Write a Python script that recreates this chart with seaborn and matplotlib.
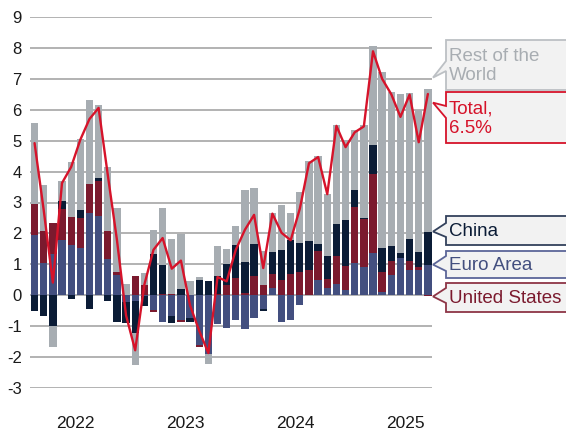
import matplotlib

matplotlib.use("Agg")
import matplotlib.pyplot as plt
import numpy as np
import pandas as pd
import seaborn as sns
from matplotlib.patches import Polygon

# --- data (monthly contributions, pp) ---
MONTHS = pd.date_range("2022-02-01", "2025-09-01", freq="MS")

EURO_AREA = [1.96, 1.04, 1.34, 1.78, 1.61, 1.53, 2.66, 2.55, 1.17, 0.66, -0.22,
             -0.20, -0.04, -0.47, -0.85, -0.68, -0.81, -0.74, -1.60, -1.89, -0.92, -1.06, -0.79,
             -1.10, -0.74, -0.45, 0.25, -0.85, -0.79, -0.33, 0.00, 0.50, 0.25, 0.37, 0.18,
             1.04, 0.90, 1.36, 0.12, 0.67, 1.19, 0.83, 0.83, 0.99]
UNITED_STATES = [1.00, 1.03, 1.00, 1.01, 0.91, 0.97, 0.94, 1.15, 0.90, 0.08, 0.00,
                 0.61, 0.33, -0.07, 0.05, 0.03, -0.04, 0.00, -0.08, 0.00, 0.05, 0.34, 0.55,
                 0.07, 0.61, 0.32, 0.45, 0.50, 0.70, 0.74, 0.82, 0.93, 0.28, 0.89, 0.75,
                 1.83, 1.58, 2.57, 0.63, 0.45, 0.00, 0.27, 0.08, -0.04]
CHINA = [-0.52, -0.68, -1.00, 0.27, -0.12, 0.27, -0.44, 0.09, -0.17, -0.85, -0.68,
         -1.02, -0.31, 1.34, 0.92, -0.22, 0.20, -0.13, 0.50, 0.47, 0.56, 0.66, 1.08,
         1.00, 1.06, -0.07, 0.71, 0.95, 1.08, 0.95, 0.95, 0.22, 0.75, 1.05, 1.49,
         0.54, 0.02, 0.94, 0.77, 0.46, 0.17, 0.73, 0.49, 1.07]
REST_OF_WORLD = [2.61, 1.51, -0.66, 0.62, 1.78, 2.30, 2.71, 2.35, 2.07, 2.08, 0.36,
                 -1.03, 0.39, 0.78, 1.84, 1.79, 1.79, 0.47, 0.09, -0.33, 0.97, 0.49, 0.60,
                 2.32, 1.79, 1.12, 1.25, 1.47, 0.88, 1.64, 2.56, 2.84, 1.99, 3.21, 2.61,
                 1.95, 3.02, 3.20, 5.70, 4.99, 5.15, 4.71, 4.60, 4.61]
TOTAL = [4.92, 2.75, 0.41, 3.63, 4.15, 5.03, 5.70, 6.06, 3.90, 1.80, -0.65,
         -1.78, 0.34, 1.47, 1.85, 0.86, 1.12, -0.33, -1.15, -1.87, 0.59, 0.45, 1.47,
         2.12, 2.60, 0.88, 2.64, 2.02, 1.78, 2.80, 4.27, 4.47, 3.27, 5.48, 4.79,
         5.27, 5.46, 7.89, 7.00, 6.50, 5.77, 6.49, 4.95, 6.51]
YEARS = ["2022", "2023", "2024", "2025"]
Y_TICKS = list(range(-3, 10))

# --- styling ---
C_EURO = "#434f7f"
C_US = "#7b1a2e"
C_CHINA = "#0b1c36"
C_ROW = "#a7adb2"
C_TOTAL = "#d6132a"
C_GRID = "#a6a6a6"
W, H = 566, 430


def px_to_fig(x, y):
    """Top-left pixel coords -> figure fraction."""
    return x / W, 1 - y / H


def callout(fig, text, color, edge, tip_y, box, base, lw=1.3):
    """Speech-bubble label on the right of the plot area."""
    top, bottom = box
    b_top, b_bot = base
    left, right, tip_x = 446, 590, 433
    pts = [(left, top), (right, top), (right, bottom), (left, bottom),
           (left, b_bot), (tip_x, tip_y), (left, b_top)]
    poly = Polygon([px_to_fig(*p) for p in pts], closed=True, transform=fig.transFigure,
                   facecolor="#f2f2f2", edgecolor=edge, linewidth=lw, clip_on=False)
    fig.patches.append(poly)
    fx, fy = px_to_fig(449, (top + bottom) / 2 + 1)
    fig.text(fx, fy, text, color=color, fontsize=13.5, va="center", ha="left",
             linespacing=1.2)


def main():
    sns.set_theme(style="white")
    plt.rcParams["font.family"] = ["Liberation Sans", "DejaVu Sans"]

    fig = plt.figure(figsize=(W / 100, H / 100), dpi=100)
    ax = fig.add_axes([30 / W, 1 - 388 / H, (432 - 30) / W, (388 - 17) / H])

    # month index with Jan 2022 = 0
    x = np.array([(d.year - 2022) * 12 + d.month - 1 for d in MONTHS])

    series = [(EURO_AREA, C_EURO), (UNITED_STATES, C_US), (CHINA, C_CHINA), (REST_OF_WORLD, C_ROW)]
    pos = np.zeros(len(x))
    neg = np.zeros(len(x))
    for vals, col in series:
        v = np.array(vals)
        bottom = np.where(v >= 0, pos, neg)
        ax.bar(x, v, bottom=bottom, width=0.8, color=col, linewidth=0, zorder=2)
        pos = pos + np.clip(v, 0, None)
        neg = neg + np.clip(v, None, 0)

    df_total = pd.DataFrame({"x": x, "total": TOTAL})
    sns.lineplot(data=df_total, x="x", y="total", ax=ax, color=C_TOTAL, linewidth=1.7, zorder=3)

    ax.set_ylim(-3, 9)
    ax.set_xlim(0.5, 44.45)
    ax.set_yticks(Y_TICKS)
    ax.set_yticklabels([str(t) for t in Y_TICKS])
    ax.grid(True, axis="y", color=C_GRID, linewidth=1.2)
    ax.grid(False, axis="x")
    ax.set_axisbelow(True)
    for s in ax.spines.values():
        s.set_visible(False)
    ax.spines["bottom"].set_position(("outward", 11))

    ax.set_xticks([5.5, 17.5, 29.5, 41.5])
    ax.set_xticklabels(YEARS)
    ax.set_xticks([11.5, 23.5, 35.5], minor=True)
    ax.tick_params(axis="x", which="major", length=0, pad=9, labelsize=12.5, colors="#1a1a1a")
    ax.tick_params(axis="x", which="minor", length=4, width=1, direction="out", color="#333333")
    ax.tick_params(axis="y", length=0, pad=6, labelsize=12, colors="#1a1a1a")
    ax.set_xlabel("")
    ax.set_ylabel("")

    # tip positions from the last observation
    def ypix(v):
        return H - ax.transData.transform((44, v))[1]

    last = len(x) - 1
    china_top = EURO_AREA[last] + CHINA[last] + max(UNITED_STATES[last], 0)
    row_top = pos[last]

    callout(fig, "Rest of the\nWorld", "#a8adb2", "#bcc0c4", ypix(row_top + 0.37), (40, 90), (61, 71))
    callout(fig, "Total,\n6.5%", C_TOTAL, C_TOTAL, ypix(TOTAL[last] - 0.28), (92, 143), (106, 118))
    callout(fig, "China", C_CHINA, "#33415c", ypix(china_top), (216, 245), (223, 237))
    callout(fig, "Euro Area", C_EURO, "#5c6699", ypix(EURO_AREA[last]), (251, 278), (256, 271))
    callout(fig, "United States", C_US, "#8e3546", ypix(UNITED_STATES[last]), (283, 312), (288, 303))

    fig.savefig("out.png", dpi=100)
    plt.close(fig)


if __name__ == "__main__":
    main()
